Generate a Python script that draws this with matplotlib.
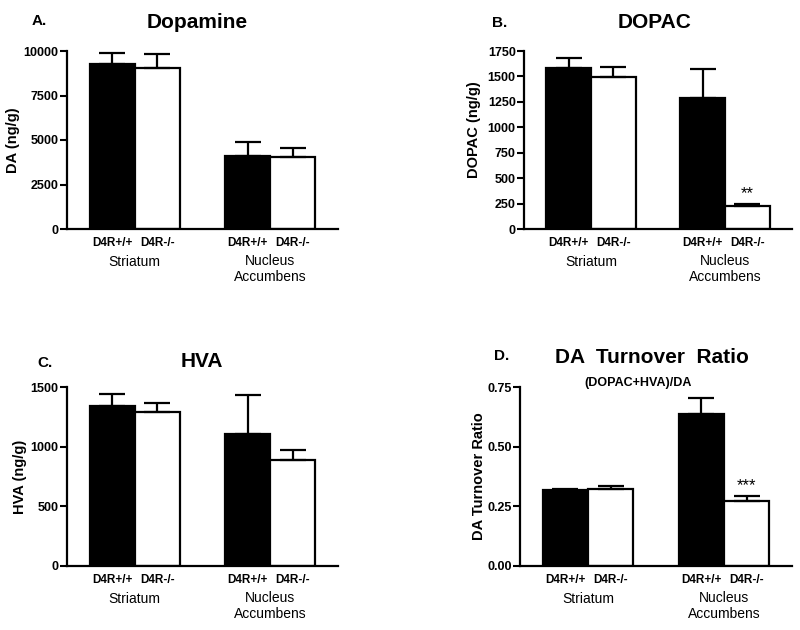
import matplotlib
matplotlib.use('Agg')
import matplotlib.pyplot as plt

plt.rcParams['font.family'] = ['Liberation Sans', 'DejaVu Sans']

# ---------------------------------------------------------
# Data: order = Str WT, Str KO, NAc WT, NAc KO
# ---------------------------------------------------------
genotypes = ['D4R+/+', 'D4R-/-', 'D4R+/+', 'D4R-/-']
regions = ['Striatum', 'Nucleus\nAccumbens']

da_mean = [9290, 9050, 4090, 4060]
da_sem = [620, 800, 810, 500]

dopac_mean = [1583, 1498, 1289, 226]
dopac_sem = [102, 95, 288, 19]

hva_mean = [1338, 1288, 1110, 887]
hva_sem = [106, 75, 320, 83]

ratio_mean = [0.317, 0.321, 0.636, 0.273]
ratio_sem = [0.005, 0.015, 0.069, 0.021]

da_ticks = [0, 2500, 5000, 7500, 10000]
dopac_ticks = [0, 250, 500, 750, 1000, 1250, 1500, 1750]
hva_ticks = [0, 500, 1000, 1500]
ratio_ticks = [0.00, 0.25, 0.50, 0.75]

W, H = 800, 630
fig = plt.figure(figsize=(W / 100, H / 100), dpi=100)

xpos = [1, 2, 4, 5]
colors = ['black', 'white', 'black', 'white']


def px_axes(left, top, right, bottom):
    # pixel box -> figure fraction
    return fig.add_axes([left / W, (H - bottom) / H, (right - left) / W, (bottom - top) / H])


def panel(ax, mean, sem, ticks, ylabel, labx, laby, fmt=None, stars=None):
    ax.bar(xpos, mean, width=1.0, color=colors, edgecolor='black', linewidth=1.6, zorder=2)
    ax.errorbar(xpos, mean, yerr=[[0] * 4, sem], fmt='none', ecolor='black',
                elinewidth=1.6, capsize=9.5, capthick=1.6, zorder=3)
    ax.set_xlim(0, 6)
    ax.set_ylim(ticks[0], ticks[-1])
    ax.set_yticks(ticks)
    if fmt:
        ax.set_yticklabels([fmt.format(t) for t in ticks])
    for s in ['top', 'right']:
        ax.spines[s].set_visible(False)
    for s in ['left', 'bottom']:
        ax.spines[s].set_linewidth(1.6)
    ax.set_xticks([])
    ax.tick_params(axis='y', direction='out', length=5, width=1.5, pad=1, labelsize=9)
    for lb in ax.get_yticklabels():
        lb.set_fontweight('bold')
    ax.set_ylabel(ylabel, fontsize=10.5, fontweight='bold')
    ax.yaxis.set_label_coords(labx, laby)

    for x, g in zip(xpos, genotypes):
        ax.annotate(g, xy=(x, 0), xycoords=('data', 'axes fraction'), xytext=(0, -14),
                    textcoords='offset pixels', ha='center', va='center',
                    fontsize=8.5, fontweight='bold')
    ax.annotate(regions[0], xy=(1.5, 0), xycoords=('data', 'axes fraction'), xytext=(0, -33),
                textcoords='offset pixels', ha='center', va='center', fontsize=10)
    ax.annotate(regions[1], xy=(4.5, 0), xycoords=('data', 'axes fraction'), xytext=(0, -25),
                textcoords='offset pixels', ha='center', va='top', fontsize=10,
                linespacing=1.15)
    if stars:
        ax.annotate(stars, xy=(xpos[3], mean[3] + sem[3]), xytext=(0, 3),
                    textcoords='offset pixels', ha='center', va='bottom', fontsize=12)


axA = px_axes(67, 51, 338, 229)
panel(axA, da_mean, da_sem, da_ticks, 'DA (ng/g)', -0.173, 0.5)

axB = px_axes(524, 51, 792, 229)
panel(axB, dopac_mean, dopac_sem, dopac_ticks, 'DOPAC (ng/g)', -0.160, 0.56, stars='**')

axC = px_axes(67, 387, 338, 566)
panel(axC, hva_mean, hva_sem, hva_ticks, 'HVA (ng/g)', -0.148, 0.5)

axD = px_axes(520, 387, 792, 566)
panel(axD, ratio_mean, ratio_sem, ratio_ticks, 'DA Turnover Ratio', -0.125, 0.5,
      fmt='{:.2f}', stars='***')


def ftext(x, y, s, **kw):
    fig.text(x / W, (H - y) / H, s, va='baseline', **kw)


ftext(197, 28, 'Dopamine', ha='center', fontsize=15, fontweight='bold')
ftext(655, 28, 'DOPAC', ha='center', fontsize=15, fontweight='bold')
ftext(202, 367, 'HVA', ha='center', fontsize=15, fontweight='bold')
ftext(652, 363, 'DA  Turnover  Ratio', ha='center', fontsize=15, fontweight='bold')
ftext(638, 386, '(DOPAC+HVA)/DA', ha='center', fontsize=9, fontweight='bold')

ftext(39, 25, 'A.', ha='center', fontsize=11, fontweight='bold')
ftext(500, 27, 'B.', ha='center', fontsize=11, fontweight='bold')
ftext(45, 367, 'C.', ha='center', fontsize=11, fontweight='bold')
ftext(502, 360, 'D.', ha='center', fontsize=11, fontweight='bold')

fig.savefig('out.png', dpi=100)
